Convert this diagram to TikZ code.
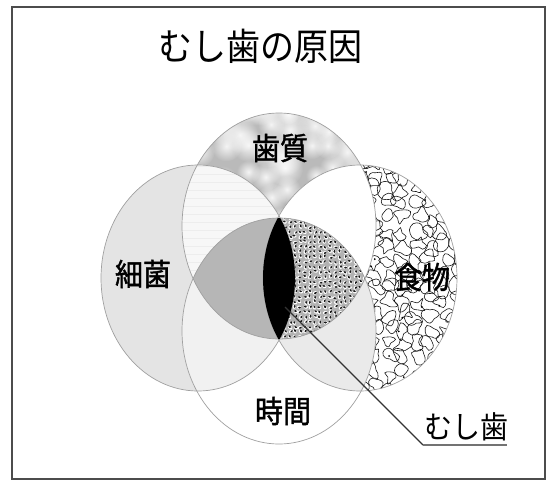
\documentclass[tikz,border=0pt]{standalone}
\usepackage{fontspec}
\usetikzlibrary{fadings}
\newfontfamily\cjk{Noto Sans CJK JP}
\newfontfamily\cjkb[FakeBold=1.4]{Noto Sans CJK JP}
\definecolor{outl}{HTML}{A0A0A0}
\definecolor{bactc}{HTML}{E4E4E4}
\definecolor{enamc}{HTML}{BABABA}
\definecolor{midg}{HTML}{B6B6B6}
\definecolor{lbc}{HTML}{F1F1F1}
\definecolor{rbc}{HTML}{EAEAEA}
\definecolor{ltc}{HTML}{F7F7F7}
\tikzfading[name=softblob, inner color=transparent!0, outer color=transparent!100]
\begin{document}
\begin{tikzpicture}[x=1pt,y=-1pt,
  lbl/.style={font=\cjkb\fontsize{28}{30}\selectfont, yscale=1.1, inner sep=0pt},
  ttl/.style={font=\cjk\fontsize{34}{36}\selectfont, yscale=1.1, inner sep=0pt},
  ring/.style={draw=outl, line width=0.7pt}]
\useasboundingbox (0,0) rectangle (547,480);
\def\Lp{(198,278) ellipse [x radius=97pt, y radius=113pt]}
\def\Rp{(360,278) ellipse [x radius=97pt, y radius=113pt]}
\def\Tp{(279,226) ellipse [x radius=97pt, y radius=113pt]}
\def\Bp{(279,331) ellipse [x radius=97pt, y radius=113pt]}
\pgfmathsetseed{23}
% frame
\draw[line width=2pt, draw=black!70] (12,7) rectangle (545,479);
% L only
\fill[bactc] \Lp;
% T: mottled clouds
\begin{scope}
  \clip \Tp;
  \fill[enamc] \Tp;
  \foreach \i in {0,...,9}{\foreach \j in {0,...,6}{
    \pgfmathsetmacro{\cx}{178+\i*22+rnd*14-7}
    \pgfmathsetmacro{\cy}{108+\j*22+rnd*14-7}
    \pgfmathsetmacro{\rr}{10+rnd*10}
    \fill[white, path fading=softblob, fill opacity=0.85] (\cx,\cy) circle [radius=\rr pt];
  }}
  \fill[white, path fading=softblob, fill opacity=0.6] (279,112) ellipse [x radius=90pt, y radius=14pt];
\end{scope}
% R: maze-like contour loops
\begin{scope}
  \clip \Rp;
  \fill[white] \Rp;
  \foreach \i in {0,...,14}{\foreach \j in {0,...,17}{
    \pgfmathsetmacro{\cx}{262+\i*14+rnd*8-4}
    \pgfmathsetmacro{\cy}{162+\j*14+rnd*8-4}
    \pgfmathsetmacro{\ra}{3+rnd*7}
    \pgfmathsetmacro{\rb}{3+rnd*7}
    \pgfmathsetmacro{\rc}{3+rnd*7}
    \pgfmathsetmacro{\rd}{3+rnd*7}
    \pgfmathsetmacro{\re}{3+rnd*7}
    \pgfmathsetmacro{\rf}{3+rnd*7}
    \pgfmathsetmacro{\rg}{3+rnd*7}
    \pgfmathsetmacro{\rh}{3+rnd*7}
    \pgfmathsetmacro{\rot}{rnd*90}
    \draw[line width=0.6pt, black!90, shift={(\cx,\cy)}, rotate=\rot] plot[smooth cycle, tension=0.9]
      coordinates {(0:\ra) (45:\rb) (90:\rc) (135:\rd) (180:\re) (225:\rf) (270:\rg) (315:\rh)};
  }}
  \foreach \k in {1,...,40}{
    \pgfmathsetmacro{\cx}{262+rnd*200}
    \pgfmathsetmacro{\cy}{165+rnd*225}
    \fill[black] (\cx,\cy) circle [radius=1pt];
  }
\end{scope}
% B only
\fill[white] \Bp;
% L cap T
\begin{scope}
  \clip \Lp;
  \fill[ltc] \Tp;
  \clip \Tp;
  \foreach \y in {150,158,...,320} \draw[black!7, line width=0.5pt] (100,\y) -- (300,\y);
\end{scope}
% T cap R
\begin{scope}
  \clip \Tp;
  \fill[white] \Rp;
\end{scope}
% L cap B
\begin{scope}
  \clip \Lp;
  \fill[lbc] \Bp;
\end{scope}
% R cap B
\begin{scope}
  \clip \Rp;
  \fill[rbc] \Bp;
\end{scope}
% T cap B
\begin{scope}
  \clip \Tp;
  \clip \Bp;
  \fill[midg] \Bp;
  \begin{scope}
    \clip \Rp;
    \fill[black!30] \Rp;
    \foreach \i in {0,...,23}{\foreach \j in {0,...,27}{
      \pgfmathsetmacro{\cx}{260+\i*5+rnd*2-1}
      \pgfmathsetmacro{\cy}{212+\j*5+rnd*2-1}
      \pgfmathsetmacro{\ang}{rnd*180}
      \fill[white, rotate around={\ang:(\cx,\cy)}] (\cx,\cy) ellipse [x radius=2.2pt, y radius=1.6pt];
      \fill[black!90, rotate around={\ang:(\cx,\cy)}] (\cx+0.5,\cy+0.4) ellipse [x radius=1.7pt, y radius=1pt];
    }}
  \end{scope}
\end{scope}
% outlines
\draw[ring] \Lp;
\draw[ring] \Rp;
\draw[ring] \Tp;
\draw[ring] \Bp;
% center black
\begin{scope}
  \clip \Tp;
  \clip \Bp;
  \clip \Lp;
  \fill[black] \Rp;
\end{scope}
% texts
\node[ttl] (title) at (260,46) {むし歯の原因};
\node[lbl] (enamel) at (280,148) {歯質};
\node[lbl] (bact) at (143,274) {細菌};
\node[lbl] (food) at (422,277) {食物};
\node[lbl] (time) at (283,411) {時間};
\node[lbl, font=\cjk\fontsize{28}{30}\selectfont] (mushi) at (466,427) {むし歯};
% connector
\coordinate (tip) at (285,307);
\coordinate (elbow) at (423,445);
\coordinate (uend) at (507,445);
\draw[line width=1.3pt, draw=black!80] (tip) -- (elbow);
\draw[line width=1.8pt, draw=black!55] (elbow) -- (uend);
\end{tikzpicture}
\end{document}
